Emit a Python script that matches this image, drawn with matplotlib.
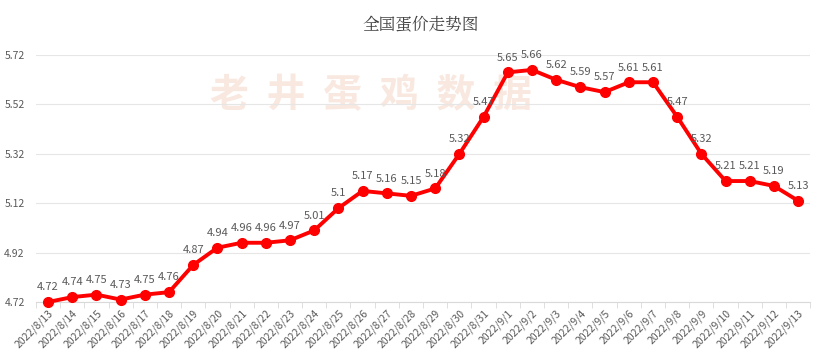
import matplotlib
matplotlib.use("Agg")
import matplotlib.pyplot as plt
import numpy as np

plt.rcParams["font.family"] = ["Noto Sans CJK SC", "DejaVu Sans"]

dates = ["2022/8/13", "2022/8/14", "2022/8/15", "2022/8/16", "2022/8/17", "2022/8/18",
         "2022/8/19", "2022/8/20", "2022/8/21", "2022/8/22", "2022/8/23", "2022/8/24",
         "2022/8/25", "2022/8/26", "2022/8/27", "2022/8/28", "2022/8/29", "2022/8/30",
         "2022/8/31", "2022/9/1", "2022/9/2", "2022/9/3", "2022/9/4", "2022/9/5",
         "2022/9/6", "2022/9/7", "2022/9/8", "2022/9/9", "2022/9/10", "2022/9/11",
         "2022/9/12", "2022/9/13"]
prices = [4.72, 4.74, 4.75, 4.73, 4.75, 4.76, 4.87, 4.94, 4.96, 4.96, 4.97, 5.01,
          5.1, 5.17, 5.16, 5.15, 5.18, 5.32, 5.47, 5.65, 5.66, 5.62, 5.59, 5.57,
          5.61, 5.61, 5.47, 5.32, 5.21, 5.21, 5.19, 5.13]
yticks = [4.72, 4.92, 5.12, 5.32, 5.52, 5.72]

fig = plt.figure(figsize=(8.16, 3.6), dpi=100)
ax = fig.add_axes([0.044, 0.161, 0.949, 0.686])

# watermark behind everything
fig.text(0.455, 0.735, "老  井  蛋  鸡  数  据", ha="center", va="center", fontsize=28,
         color="#f9e8df", fontweight="bold", style="italic", zorder=-1)
ax.patch.set_alpha(0)

x = np.arange(len(dates))
ax.plot(x, prices, color="#ff0000", lw=2.8, marker="o", ms=7, zorder=3, clip_on=False)
for xi, v in zip(x, prices):
    ax.annotate(f"{v:g}", (xi, v), xytext=(0, 7), textcoords="offset points",
                ha="center", va="bottom", fontsize=8, color="#595959")

ax.set_xlim(-0.5, len(dates) - 0.5)
ax.set_ylim(4.72, 5.72)
ax.set_yticks(yticks)
ax.set_yticklabels([f"{t:.2f}" for t in yticks], fontsize=7.5, color="#595959")
ax.yaxis.grid(True, color="#e6e6e6", lw=0.8)
ax.set_axisbelow(True)
ax.tick_params(axis="y", length=0, pad=8)

ax.set_xticks(x)
ax.set_xticklabels(dates, rotation=45, ha="right", rotation_mode="anchor",
                   fontsize=7.5, color="#595959")
ax.set_xticks(np.arange(-0.5, len(dates)), minor=True)
ax.tick_params(axis="x", which="major", length=0, pad=4)
ax.tick_params(axis="x", which="minor", length=4, color="#d9d9d9")

for s in ["top", "right", "left"]:
    ax.spines[s].set_visible(False)
ax.spines["bottom"].set_color("#d9d9d9")

fig.text(0.515, 0.93, "全国蛋价走势图", ha="center", va="center", fontsize=12,
         color="#404040", fontfamily=["Noto Serif CJK SC", "Noto Sans CJK SC"])

fig.savefig("out.png", dpi=100)
